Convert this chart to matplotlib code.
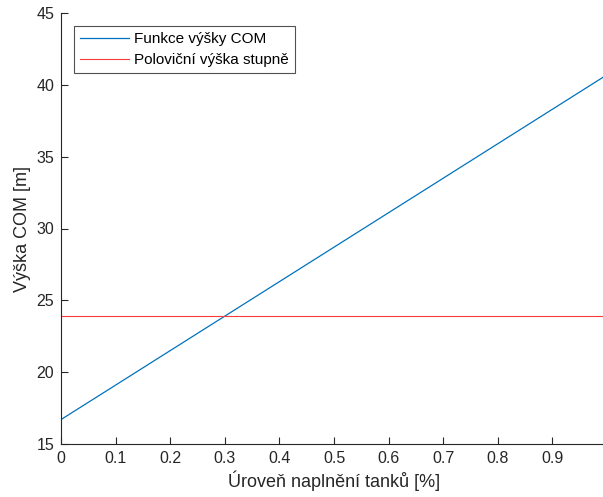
import matplotlib.pyplot as plt

plt.rcParams['font.family'] = ['Liberation Sans', 'DejaVu Sans']

fill = [0, 0.25, 0.5, 0.75, 1.0]
com_height = [16.7, 22.7, 28.7, 34.7, 40.7]
half_stage = [23.9, 23.9, 23.9, 23.9, 23.9]

fig = plt.figure(figsize=(6.03, 4.97), dpi=100)
ax = fig.add_axes([61 / 603, 53 / 497, 546 / 603, 431 / 497])

ax.plot(fill, com_height, color='#0072BD', lw=0.9, label='Funkce výšky COM')
ax.plot(fill, half_stage, color='#FF3B3B', lw=0.8, label='Poloviční výška stupně')

ax.set_xlim(0, 1)
ax.set_ylim(15, 45)
ax.set_xticks([i / 10 for i in range(11)])
ax.set_xticklabels(['0', '0.1', '0.2', '0.3', '0.4', '0.5', '0.6', '0.7', '0.8', '0.9', '1'])
ax.set_yticks(range(15, 46, 5))

for s in ['top', 'right']:
    ax.spines[s].set_visible(False)
for s in ['left', 'bottom']:
    ax.spines[s].set_color('#262626')
    ax.spines[s].set_linewidth(0.8)
ax.tick_params(direction='in', length=5, width=0.8, colors='#262626', labelsize=11.5, pad=5)

ax.set_xlabel('Úroveň naplnění tanků [%]', fontsize=13, color='#262626', labelpad=3)
ax.set_ylabel('Výška COM [m]', fontsize=13, color='#262626', labelpad=4)

leg = ax.legend(loc='upper left', bbox_to_anchor=(0.024, 0.970), fontsize=11,
                frameon=True, fancybox=False, edgecolor='#262626', handlelength=3.2,
                handletextpad=0.3, borderpad=0.4, labelspacing=0.45, borderaxespad=0)
leg.get_frame().set_linewidth(0.8)

fig.savefig('out.png', dpi=100)
